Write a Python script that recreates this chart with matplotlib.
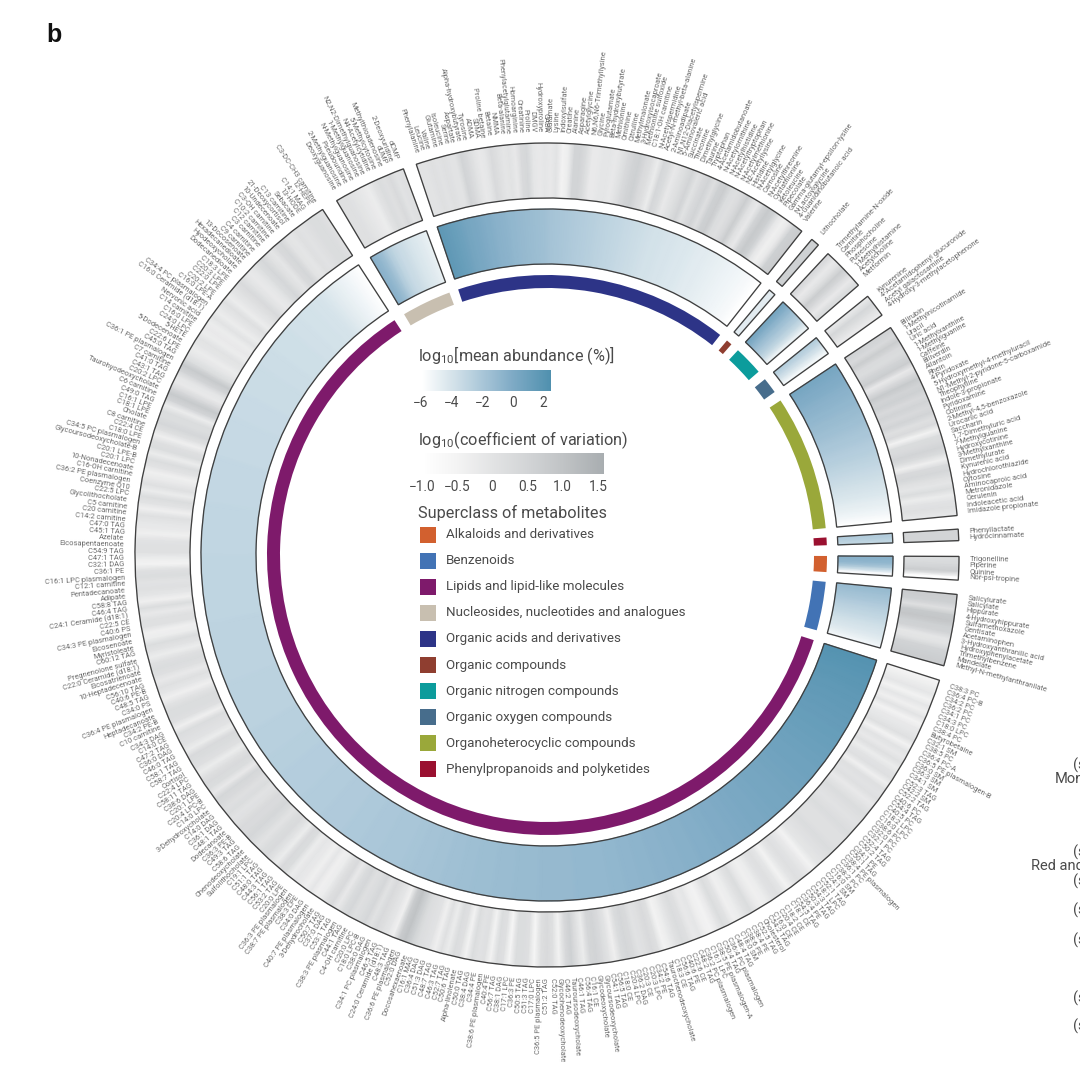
import numpy as np
import matplotlib
matplotlib.use("Agg")
import matplotlib.pyplot as plt
from matplotlib.colors import LinearSegmentedColormap, Normalize

plt.rcParams['font.family'] = ['Roboto', 'DejaVu Sans']
plt.rcParams['mathtext.default'] = 'regular'

# Metabolites per superclass, clockwise, with values
lipid_names = [
    "C38:3 PC", "C36:4 PC-B", "C34:2 PC", "C36:2 PC", "C34:1 PC", "C34:3 PC", "C18:0 LPC", "C38:4 PC", "Butyrobetaine", "C32:1 SM",
    "C38:5 PC", "C36:4 PC-A", "C36:5 PE plasmalogen-B", "C36:0 SM", "C36:3 SM", "C34:1 SM", "C52:3 TAG", "C42:2 SM", "C52:2 TAG", "C40:6 PC",
    "C54:4 TAG", "C40:5 PC", "C18:2 LPC", "C16:0 LPC", "C38:6 PC", "C32:0 PC", "C32:1 PC", "C52:4 TAG", "C50:2 TAG", "C34:1 PE",
    "C50:1 TAG", "C38:4 PE plasmalogen", "C36:1 PC", "C38:2 PC", "C16:0 SM", "C24:1 SM", "C52:1 TAG", "C18:1 LPC", "C54:3 TAG", "C50:3 TAG",
    "C36:4 PE", "C54:5 TAG", "C18:1 CE", "C18:2 CE", "C20:4 CE", "C16:0 CE", "C54:2 TAG", "Cholesterol", "C52:5 TAG", "C38:4 PE",
    "C38:6 PE", "C18:0 SM", "C48:4 TAG", "C36:4 PC plasmalogen", "C50:4 TAG", "C38:5 PE plasmalogen-A", "C16:1 LPC", "C36:2 PC plasmalogen", "C48:2 TAG", "C22:6 CE",
    "C40:6 PE", "C56:6 TAG", "C18:3 CE", "Taurochenodeoxycholate", "C54:6 TAG", "C34:2 PE", "C20:3 LPC", "C20:3 CE", "C36:2 DAG", "C20:4 LPC",
    "C18:0 CE", "C56:5 TAG", "C54:1 TAG", "Glycoursodeoxycholate", "Glycodeoxycholate", "C16:1 CE", "C56:4 TAG", "C46:1 TAG", "Tauroursodeoxycholate", "C46:2 TAG",
    "Glycochenodeoxycholate", "C52:0 TAG", "C51:2 TAG", "C36:5 PE plasmalogen", "C17:0 LPC", "C51:3 TAG", "C50:5 TAG", "C36:3 PE", "C17:1 LPC", "C38:1 DAG",
    "C56:7 TAG", "C40:4 PE", "C38:6 PE plasmalogen", "C34:4 PE", "C38:4 DAG", "C50:0 TAG", "Alpha-linolenate", "C50:6 TAG", "C52:7 TAG", "C46:3 TAG",
    "C48:7 TAG", "C51:3 DAG", "C36:4 DAG", "C16:1 MAG", "Docosahexaenoate", "C52:0 DAG", "C36:6 PE plasmalogen", "C48:3 TAG", "C24:0 Ceramide (d18:1)", "C46:5 TAG",
    "C34:1 PC plasmalogen", "C38:0 DAG", "C18:0 LPC-B", "C20:0 LPC", "C4-OH carnitine", "C44:1 TAG", "C38:3 PE plasmalogen", "C53:1 TAG", "C37:0 DAG", "C50:7 TAG",
    "3-Dehydrocholate", "C40:7 PE plasmalogen", "C34:0 DAG", "C38:3 LPE", "C38:7 PE plasmalogen", "C36:3 PE plasmalogen", "C20:0 LPE", "C53:2 TAG", "C56:1 TAG", "C44:3 TAG",
    "C48:0 TAG", "C51:1 TAG", "C19:1 LPC", "Sulfolithocholate", "Chenodeoxycholate", "C58:6 TAG", "C49:3 TAG", "C36:3 PE-B", "Dodecanoate", "C48:1 TAG",
    "C36:1 DAG", "C14:0 DAG", "3-Dehydroxycholate", "C14:0 LPC", "C20:4 LPC-B", "C20:1 LPE", "C38:6 DAG", "C58:11 TAG", "C22:4 LPC", "Cortisol",
    "C58:7 TAG", "C58:1 TAG", "C46:0 TAG", "C36:0 DAG", "C47:2 TAG", "C14:0 CE", "C34:3 DAG", "C10 carnitine", "C34:2 PE-B", "Heptadecanoate",
    "C36:4 PE plasmalogen", "C34:0 PS", "C48:5 TAG", "C40:6 PE-B", "C56:10 TAG", "10-Heptadecenoate", "Eicosatrienoate", "C22:0 Ceramide (d18:1)", "Pregnenolone sulfate", "C60:12 TAG",
    "Myristoleate", "Eicosenoate", "C34:3 PE plasmalogen", "C40:6 PS", "C22:5 CE", "C24:1 Ceramide (d18:1)", "C46:4 TAG", "C58:8 TAG", "Adipate", "Pentadecanoate",
    "C12:1 carnitine", "C16:1 LPC plasmalogen", "C36:1 PE", "C32:1 DAG", "C47:1 TAG", "C54:9 TAG", "Eicosapentaenoate", "Azelate", "C45:1 TAG", "C47:0 TAG",
    "C14:2 carnitine", "C20 carnitine", "C5 carnitine", "Glycolithocholate", "C22:5 LPC", "Coenzyme Q10", "C36:2 PE plasmalogen", "C16-OH carnitine", "10-Nonadecenoate", "C20:1 LPC",
    "C20:1 LPE-B", "Glycoursodeoxycholate-B", "C34:5 PC plasmalogen", "C18:0 LPE", "C22:4 CE", "C8 carnitine", "Cholate", "C18:1 LPE", "C16:1 LPE", "C49:0 TAG",
    "C6 carnitine", "Taurohyodeoxycholate", "C20:2 LPC", "C43:1 TAG", "C41:0 TAG", "C7 carnitine", "C36:1 PE plasmalogen", "C45:0 TAG", "C22:6 LPE", "5-Dodecenoate",
    "5-HETE", "C24:0 LPC", "C16:0 LPE", "C14 carnitine", "Nervonic acid", "C16:0 Ceramide (d18:1)", "C34:4 PC plasmalogen", "C16:0 LPE-A", "C20:2 LPE", "C22:0 LPE",
    "C20:3 LPE", "C18:3 LPE", "Dodecanedioate", "Hyodeoxycholate", "Hexadecanedioate", "13-Docosenoate", "C9 carnitine", "C4 carnitine", "C3 carnitine", "C12 carnitine",
    "C10:2 carnitine", "C3-OH carnitine", "10-Undecenoate", "21-Deoxycortisol", "C13 carnitine", "Sebacate", "13-HODE", "C14:1 MAG", "12-HEPE", "C3-DC-CH3 carnitine",
]
lipid_abund = [
    2.2, 2.1, 2.0, 1.9, 1.8, 1.8, 1.7, 1.6, 1.6, 1.5,
    1.5, 1.4, 1.4, 1.3, 1.3, 1.2, 1.2, 1.1, 1.1, 1.0,
    1.0, 0.9, 0.9, 0.8, 0.8, 0.8, 0.7, 0.7, 0.6, 0.6,
    0.5, 0.5, 0.4, 0.4, 0.4, 0.3, 0.3, 0.2, 0.2, 0.2,
    0.1, 0.1, 0.0, 0.0, -0.1, -0.1, -0.1, -0.2, -0.2, -0.3,
    -0.3, -0.3, -0.4, -0.4, -0.4, -0.5, -0.5, -0.5, -0.6, -0.6,
    -0.6, -0.7, -0.7, -0.7, -0.8, -0.8, -0.8, -0.9, -0.9, -0.9,
    -1.0, -1.0, -1.0, -1.0, -1.0, -1.0, -1.0, -1.1, -1.1, -1.1,
    -1.1, -1.1, -1.1, -1.1, -1.2, -1.2, -1.2, -1.2, -1.2, -1.3,
    -1.3, -1.3, -1.3, -1.4, -1.4, -1.4, -1.4, -1.5, -1.5, -1.5,
    -1.6, -1.6, -1.6, -1.7, -1.7, -1.7, -1.8, -1.8, -1.8, -1.9,
    -1.9, -2.0, -2.0, -2.0, -2.0, -2.0, -2.1, -2.1, -2.1, -2.1,
    -2.2, -2.2, -2.2, -2.2, -2.3, -2.3, -2.3, -2.3, -2.3, -2.4,
    -2.4, -2.4, -2.4, -2.4, -2.5, -2.5, -2.5, -2.5, -2.5, -2.5,
    -2.6, -2.6, -2.6, -2.6, -2.7, -2.7, -2.7, -2.7, -2.7, -2.7,
    -2.8, -2.8, -2.8, -2.8, -2.8, -2.8, -2.8, -2.8, -2.8, -2.8,
    -2.9, -2.9, -2.9, -2.9, -2.9, -2.9, -2.9, -2.9, -2.9, -2.9,
    -2.9, -2.9, -3.0, -3.0, -3.0, -3.0, -3.0, -3.0, -3.0, -3.0,
    -3.0, -3.0, -3.0, -3.0, -3.0, -3.1, -3.1, -3.1, -3.1, -3.1,
    -3.1, -3.1, -3.1, -3.1, -3.1, -3.2, -3.2, -3.2, -3.2, -3.2,
    -3.2, -3.2, -3.2, -3.2, -3.3, -3.3, -3.3, -3.3, -3.3, -3.3,
    -3.3, -3.3, -3.4, -3.4, -3.4, -3.4, -3.4, -3.5, -3.5, -3.5,
    -3.5, -3.5, -3.5, -3.6, -3.6, -3.6, -3.6, -3.7, -3.7, -3.7,
    -3.7, -3.7, -3.8, -3.8, -3.8, -3.9, -3.9, -3.9, -4.0, -4.0,
    -4.1, -4.3, -4.5, -4.7, -4.9, -5.1, -5.3, -5.5, -5.7, -5.9,
]
lipid_cv = [
    -0.5, -0.3, -0.1, -0.5, -0.1, -0.4, 0.0, -0.5, -0.2, -0.1,
    0.1, -0.5, 0.0, -0.2, 0.1, -0.3, 0.0, 0.1, -0.4, 0.1,
    0.0, 0.1, -0.2, 0.0, 0.2, 0.1, 0.0, 0.1, 0.2, 0.1,
    0.1, 0.1, 0.2, 0.1, 0.0, -0.1, -0.5, -0.2, 0.0, 0.1,
    -0.1, -0.5, -0.1, 0.1, 0.0, -0.3, -0.4, -0.2, 0.2, 0.0,
    -0.3, -0.4, 0.0, 0.2, -0.2, -0.5, -0.4, -0.1, -0.2, 0.1,
    0.2, 0.0, -0.3, -0.5, 0.1, 0.3, 0.1, 0.0, 0.3, 0.4,
    0.2, -0.4, 0.0, 0.3, 0.5, 0.4, -0.3, 0.1, 0.6, 0.3,
    -0.5, 0.1, 0.3, 0.1, -0.6, 0.1, 0.2, 0.2, -0.6, 0.1,
    0.2, -0.5, 0.1, 0.0, 0.2, -0.5, 0.1, 0.2, -0.3, 0.1,
    -0.4, 0.0, 0.1, 0.2, 0.6, 1.0, 0.7, -0.4, -0.1, 0.1,
    0.3, 0.0, 0.4, 0.2, 0.1, 0.4, 0.2, -0.2, 0.3, 0.1,
    -0.3, -0.4, -0.1, -0.4, -0.2, -0.1, -0.3, 0.2, 0.3, -0.3,
    0.0, 0.3, 0.2, 0.0, 0.2, 0.4, 0.3, 0.3, 0.1, 0.0,
    0.2, 0.1, 0.3, 0.4, -0.2, 0.2, 0.3, 0.1, -0.3, 0.1,
    0.2, 0.3, -0.3, 0.0, 0.1, 0.2, -0.4, 0.1, 0.2, 0.2,
    0.0, -0.4, -0.1, 0.1, -0.2, 0.1, 0.2, 0.1, -0.3, 0.0,
    0.2, -0.3, -0.4, 0.1, 0.1, -0.2, 0.2, -0.4, -0.1, 0.1,
    0.0, 0.2, 0.1, -0.5, -0.3, 0.1, 0.1, 0.0, -0.4, -0.2,
    -0.1, 0.1, -0.4, 0.0, 0.2, -0.3, 0.1, -0.2, -0.4, 0.0,
    0.2, -0.3, 0.2, 0.1, -0.4, 0.1, 0.4, 0.2, 0.2, -0.3,
    0.5, 0.8, 0.3, -0.2, -0.1, 0.5, 0.8, 0.2, -0.1, -0.3,
    -0.1, 0.0, -0.3, -0.2, -0.3, 0.0, -0.3, -0.1, 0.1, -0.3,
    -0.1, 0.1, 0.3, 0.0, -0.2, -0.1, 0.2, 0.4, 0.1, -0.1,
    0.3, 0.4, 0.0, -0.1, 0.1, 0.0, 0.1, 0.2, 0.2, 0.1,
]

nucleoside_names = ["Deoxyguanosine", "2-Methylguanosine", "Pseudouridine", "N-Methylguanosine", "1-Methylguanosine", "N2,N2-Dimethylguanosine",
                    "N4-Acetylcytidine", "5-Methylcytosine", "Methylthioadenosine", "dUMP", "2-Deoxyuridine", "dCMP"]
nucleoside_abund = [-0.6, -1.0, -1.6, -2.4, -3.0, -3.4, -3.6, -3.9, -4.2, -4.4, -4.6, -4.9]
nucleoside_cv = [0.1, 0.1, 0.0, -0.1, -0.2, -0.3, 0.0, 0.2, 0.1, 0.3, 0.0, 0.1]

acid_names = [
    "Phenylalanine", "Leucine", "Valine", "Glutamine", "Isoleucine", "Serine", "Aspartate", "Alpha-hydroxybutyrate", "Tyrosine", "ADMA",
    "SDMA", "Proline betaine", "Betaine", "NMMA", "Beta-alanine", "Phenylacetylglutamine", "Homoarginine", "Creatinine", "Proline", "DMGV",
    "Hydroxyproline", "GABA", "Glutamate", "Lysine", "Indoxylsulfate", "Creatine", "Alanine", "Asparagine", "Acetylglycine", "N6,N6,N6-Trimethyllysine",
    "Glycine", "Pyroglutamate", "Beta-hydroxybutyrate", "Methionine", "Ornithine", "Citrulline", "Methylmalonate", "3-Hydroxyisocaproate", "Methionine sulfoxide", "C18:1-OH carnitine",
    "N-Acetylspermidine", "Acetyl-N-methyl-beta-alanine", "2-Aminoadipate", "N1,N12-Diacetylspermine", "5-Aminovaleric acid", "Succinate", "Threonine", "Dimethylglycine", "Taurine", "Tryptophan",
    "4-Acetamidobutanoate", "N-Acetylornithine", "N-Acetylhistidine", "N-Acetyltryptophan", "N-Acetylmethionine", "N2-Acetyllysine", "Histidine", "N-Acetylglycine", "Carnosine", "N-Acetylthreonine",
    "Cystathionine", "Ketoleucine", "Pipecolate", "Gamma-glutamyl-epsilon-lysine", "N-Lactoylglycine", "4-Guanidinobutanoic acid", "Valerine",
]
acid_abund = [
    1.6, 1.4, 1.2, 1.0, 0.8, 0.5, 0.3, 0.2, 0.0, -0.2,
    -0.3, -0.5, -0.6, -0.7, -0.9, -1.0, -1.1, -1.2, -1.3, -1.4,
    -1.5, -1.6, -1.8, -1.9, -2.0, -2.1, -2.2, -2.3, -2.4, -2.5,
    -2.6, -2.7, -2.8, -2.9, -3.0, -3.1, -3.2, -3.3, -3.4, -3.5,
    -3.6, -3.7, -3.8, -3.9, -3.9, -4.0, -4.1, -4.1, -4.2, -4.3,
    -4.3, -4.4, -4.5, -4.6, -4.6, -4.7, -4.8, -4.9, -5.0, -5.1,
    -5.2, -5.3, -5.4, -5.5, -5.6, -5.8, -6.0,
]
acid_cv = [
    0.0, 0.0, 0.1, 0.0, 0.1, 0.0, 0.0, 0.5, 0.3, 0.0,
    -0.2, -0.1, 0.3, 0.1, -0.1, 0.0, -0.2, 0.3, 0.4, -0.1,
    -0.2, -0.1, -0.2, 0.0, -0.5, -0.3, 0.5, 0.5, 0.2, -0.2,
    -0.2, -0.1, -0.1, -0.2, 0.0, 0.3, 0.5, 0.6, 0.3, 0.1,
    -0.3, 0.4, 0.2, -0.2, 0.0, 0.2, 0.5, 0.0, 0.3, 0.5,
    0.1, 0.6, 0.7, 0.2, 0.1, 0.3, 0.7, 0.1, -0.2, 0.5,
    0.8, 0.6, -0.1, -0.4, -0.2, 0.6, 0.7,
]

compound_names = ["Lithocholate"]
compound_abund = [-4.6]
compound_cv = [0.6]

nitrogen_names = ["Trimethylamine-N-oxide", "Carnitine", "Phosphocholine", "Putrescine", "1-Methylhistamine", "Acetylcholine", "Metformin"]
nitrogen_abund = [0.3, -0.5, -1.3, -2.0, -2.7, -3.6, -5.0]
nitrogen_cv = [0.3, -0.2, 0.1, 0.7, 0.3, -0.2, 0.2]

oxygen_names = ["Kynurenine", "4-Acetamidophenyl glucuronide", "Acetyl galactosamine", "4-Hydroxy-3-methylacetophenone"]
oxygen_abund = [-2.6, -3.4, -4.3, -5.4]
oxygen_cv = [-0.1, 0.4, 0.1, -0.2]

hetero_names = [
    "Bilirubin", "1-Methylnicotinamide", "Uracil", "Uric acid", "1-Methylxanthine", "1-Methylguanine", "Caffeine", "Biliverdin", "Allantoin", "Rhein",
    "4-Pyridoxate", "5-Hydroxymethyl-4-methyluracil", "N1-Methyl-2-pyridone-5-carboxamide", "Theophylline", "Indole-3-propionate", "Pyridoxamine", "Cotinine", "2-Methyl-4,5-benzoxazole", "Urocanic acid", "Saccharin",
    "1,7-Dimethyluric acid", "7-Methylguanine", "Hydroxycotinine", "3-Methylxanthine", "Dimethylurate", "Kynurenic acid", "Hydrochlorothiazide", "Cytosine", "Aminocaproic acid", "Metronidazole",
    "Cerulenin", "Indoleacetic acid", "Imidazole propionate",
]
hetero_abund = [
    0.3, 0.1, -0.1, -0.2, -0.4, -0.6, -0.7, -0.9, -1.0, -1.2,
    -1.3, -1.5, -1.6, -1.8, -2.0, -2.1, -2.3, -2.5, -2.6, -2.8,
    -3.0, -3.2, -3.4, -3.6, -3.8, -4.0, -4.2, -4.4, -4.7, -4.9,
    -5.2, -5.5, -5.9,
]
hetero_cv = [
    0.5, 0.3, 0.7, 0.3, 0.2, 0.5, 0.7, -0.2, 0.3, 0.8,
    0.5, 0.6, 0.3, 0.5, 0.3, 0.5, 0.1, 0.3, -0.5, 0.2,
    0.3, 0.5, 0.2, -0.4, 0.3, 0.4, 0.1, -0.1, 0.2, -0.3,
    0.0, 0.1, -0.1,
]

phenylprop_names = ["Phenyllactate", "Hydrocinnamate"]
phenylprop_abund = [-2.4, -3.0]
phenylprop_cv = [0.5, 0.5]

alkaloid_names = ["Trigonelline", "Piperine", "Quinine", "Nor-psi-tropine"]
alkaloid_abund = [-0.5, -1.0, -2.6, -5.6]
alkaloid_cv = [0.2, 0.4, 0.7, -0.9]

benzenoid_names = ["Salicylurate", "Salicylate", "Hippurate", "4-Hydroxyhippurate", "Sulfamethoxazole", "Gentisate", "Acetaminophen",
                   "3-Hydroxyanthranilic acid", "Hydroxyphenylacetate", "Trimethylbenzene", "Mandelate", "Methyl-N-methylanthranilate"]
benzenoid_abund = [-1.2, -1.6, -1.9, -2.3, -2.7, -3.0, -3.3, -3.7, -4.0, -4.3, -4.7, -5.3]
benzenoid_cv = [0.7, 0.6, 0.1, 0.8, 0.9, 0.6, 0.5, -0.1, 0.0, 0.5, 0.6, 0.7]

legend_names = ["Alkaloids and derivatives", "Benzenoids", "Lipids and lipid-like molecules",
                "Nucleosides, nucleotides and analogues", "Organic acids and derivatives", "Organic compounds",
                "Organic nitrogen compounds", "Organic oxygen compounds", "Organoheterocyclic compounds",
                "Phenylpropanoids and polyketides"]
legend_colors = ["#d2602f", "#4273b5", "#7e1a6b", "#c8bfb0", "#2d3487", "#8f3e30", "#0c9c9c", "#476d8c", "#9aa83a", "#9a1030"]
abund_ticks = [-6, -4, -2, 0, 2]
cv_ticks = [-1.0, -0.5, 0, 0.5, 1.0, 1.5]

# start/end angle in degrees clockwise from 12 o'clock
sectors = [
    (lipid_names, lipid_abund, lipid_cv, 107.7, 327.0, "#7e1a6b"),
    (nucleoside_names, nucleoside_abund, nucleoside_cv, 329.3, 339.6, "#c8bfb0"),
    (acid_names, acid_abund, acid_cv, 341.5, 398.2, "#2d3487"),
    (compound_names, compound_abund, compound_cv, 400.0, 401.2, "#8f3e30"),
    (nitrogen_names, nitrogen_abund, nitrogen_cv, 403.0, 409.1, "#0c9c9c"),
    (oxygen_names, oxygen_abund, oxygen_cv, 411.1, 414.4, "#476d8c"),
    (hetero_names, hetero_abund, hetero_cv, 416.5, 444.5, "#9aa83a"),
    (phenylprop_names, phenylprop_abund, phenylprop_cv, 446.4, 448.0, "#9a1030"),
    (alkaloid_names, alkaloid_abund, alkaloid_cv, 450.2, 453.5, "#d2602f"),
    (benzenoid_names, benzenoid_abund, benzenoid_cv, 455.5, 465.6, "#4273b5"),
]

abund_norm = Normalize(-6, 2.5)
cv_norm = Normalize(-1, 1.58)
abund_cmap = LinearSegmentedColormap.from_list("abund", [
    (0, "#ffffff"), (2 / 8.5, "#d5e3ea"), (4 / 8.5, "#a9c6d8"), (6 / 8.5, "#7eaac5"), (1, "#4f90ae")])
cv_cmap = LinearSegmentedColormap.from_list("cv", [
    (0, "#ffffff"), (0.5 / 2.58, "#f3f3f3"), (1 / 2.58, "#e2e3e4"), (1.5 / 2.58, "#d2d4d6"), (2 / 2.58, "#c0c3c5"), (1, "#a8adb0")])

W, H = 1080, 1074
cx, cy, rmax = 547, 555, 540
fig = plt.figure(figsize=(W / 100, H / 100), dpi=100, facecolor="white")
ax = fig.add_axes([(cx - rmax) / W, (H - cy - rmax) / H, 2 * rmax / W, 2 * rmax / H], projection="polar")
ax.set_theta_zero_location("N")
ax.set_theta_direction(-1)
ax.set_axis_off()

label_color = "#6a6a6a"
edge = "#3f3f3f"


def draw_ring(theta, values, r0, r1, cmap, norm):
    t = np.radians(np.vstack([theta, theta]))
    r = np.vstack([np.full(len(theta), r0), np.full(len(theta), r1)])
    c = np.vstack([values, values])
    ax.pcolormesh(t, r, c, cmap=cmap, norm=norm, shading="gouraud", rasterized=True)
    ax.bar(np.radians((theta[0] + theta[-1]) / 2), r1 - r0, width=np.radians(theta[-1] - theta[0]), bottom=r0,
           facecolor="none", edgecolor=edge, linewidth=0.95, zorder=3)


for names, abund, cv, t0, t1, color in sectors:
    n = len(names)
    step = (t1 - t0) / n
    centres = t0 + step * (np.arange(n) + 0.5)
    theta = np.r_[t0, centres, t1]
    draw_ring(theta, np.r_[abund[0], abund, abund[-1]], 291, 346, abund_cmap, abund_norm)
    draw_ring(theta, np.r_[cv[0], cv, cv[-1]], 357, 412, cv_cmap, cv_norm)
    ax.bar(np.radians((t0 + t1) / 2), 13, width=np.radians(t1 - t0), bottom=267, color=color, linewidth=0)
    for name, a in zip(names, centres):
        a = a % 360
        if a < 180:
            rot, ha = 90 - a, "left"
        else:
            rot, ha = 270 - a, "right"
        ax.text(np.radians(a), 423, name, rotation=rot, ha=ha, va="center", rotation_mode="anchor",
                fontsize=5.4, color=label_color)

ax.set_ylim(0, rmax)

# overlay in image pixels for the legends and stray text
ov = fig.add_axes([0, 0, 1, 1])
ov.set_xlim(0, W)
ov.set_ylim(H, 0)
ov.set_axis_off()
ov.patch.set_alpha(0)

text_col = "#4a4a4a"
ov.text(46, 35, "b", fontsize=18, fontweight="bold", color="#111111", va="center", family="Liberation Sans")
ov.text(418, 356, "log$_{10}$[mean abundance (%)]", fontsize=11.7, color=text_col, va="center")
ov.text(418, 440, "log$_{10}$(coefficient of variation)", fontsize=11.7, color=text_col, va="center")
ov.text(418, 513, "Superclass of metabolites", fontsize=11.7, color=text_col, va="center")

abund_edges = np.linspace(-6, 2.5, 131)
ov.pcolormesh(421 + (abund_edges + 6) * 15.3, [370, 391], abund_edges[:-1][None, :], cmap=abund_cmap, norm=abund_norm)
cv_edges = np.linspace(-1, 1.58, 183)
ov.pcolormesh(422 + (cv_edges + 1) * 70.4, [453, 474], cv_edges[:-1][None, :], cmap=cv_cmap, norm=cv_norm)
for v in abund_ticks:
    ov.text(421 + (v + 6) * 15.3, 403, f"{v}".replace("-", "\u2212"), fontsize=9.8, color=text_col, ha="center", va="center")
for v in cv_ticks:
    s = "0" if v == 0 else f"{v:.1f}".replace("-", "\u2212")
    ov.text(422 + (v + 1) * 70.4, 487, s, fontsize=9.8, color=text_col, ha="center", va="center")

for i, (name, col) in enumerate(zip(legend_names, legend_colors)):
    y = 534.5 + i * 26.1
    ov.bar(427.5, 16, width=16, bottom=y - 8, color=col, linewidth=0)
    ov.text(446, y, name, fontsize=9.65, color=text_col, va="center")

# cut-off text from the neighbouring panel
ov.text(1055, 779, "Mon", fontsize=10.5, color=text_col, va="center")
ov.text(1031, 866, "Red and", fontsize=10.5, color=text_col, va="center")
for y in [765, 852, 881, 910, 940, 998, 1026]:
    ov.text(1073, y, "(s", fontsize=10.5, color=text_col, va="center")

ov.set_xlim(0, W)
ov.set_ylim(H, 0)
fig.savefig("out.png", dpi=100, facecolor="white")
